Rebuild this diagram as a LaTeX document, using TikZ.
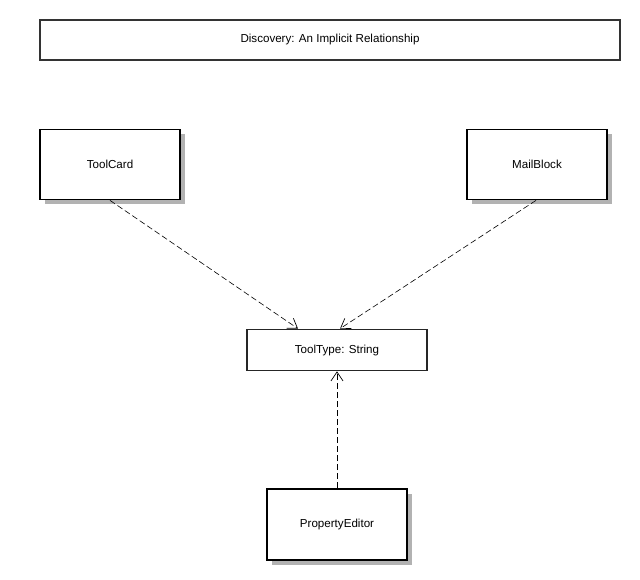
\documentclass[tikz,border=0pt]{standalone}
\usepackage{fontspec}
\setmainfont{Liberation Sans}
\usetikzlibrary{shadows,arrows.meta}

\tikzset{
    classbox/.style={draw=black, line width=1.8pt, fill=white, minimum width=140pt,
        minimum height=70pt, inner sep=0pt,
        drop shadow={shadow xshift=5pt, shadow yshift=-5pt, fill=black!30, opacity=1}},
    typebox/.style={draw=black!85, line width=1.6pt, fill=white, minimum width=180pt,
        minimum height=41pt, inner sep=0pt},
    titlebox/.style={draw=black!80, line width=1.6pt, fill=white, minimum width=580pt,
        minimum height=40pt, inner sep=0pt},
    depends/.style={dashed, dash pattern=on 6pt off 3pt, line width=0.6pt,
        -{Straight Barb[length=9pt, width=12pt, line width=0.7pt]}}
}

\begin{document}
\begin{tikzpicture}[x=1pt, y=-1pt, font=\fontsize{11.6}{13}\selectfont]
    \useasboundingbox (0,0) rectangle (640,580);
    \node[titlebox] (title) at (330,40) {Discovery: An Implicit Relationship};
    \node[classbox] (toolcard) at (110,164.5) {ToolCard};
    \node[classbox] (mailblock) at (537,164.5) {MailBlock};
    \node[typebox] (tooltype) at (337,350) {ToolType: String};
    \node[classbox, minimum height=71pt] (propeditor) at (337,524.5) {PropertyEditor};
    \draw[depends] (toolcard.south) -- ([xshift=-39pt]tooltype.north);
    \draw[depends] ([xshift=-1pt]mailblock.south) -- ([xshift=3pt]tooltype.north);
    \draw[depends] (propeditor.north) -- (tooltype.south);
\end{tikzpicture}
\end{document}
